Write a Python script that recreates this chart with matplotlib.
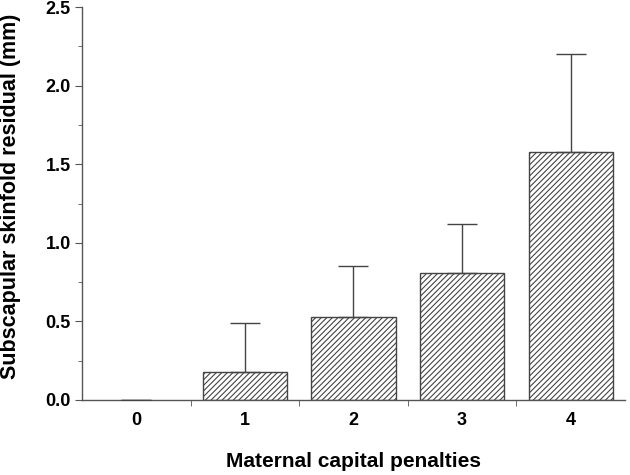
import matplotlib
matplotlib.use("Agg")
import matplotlib.pyplot as plt
from matplotlib.ticker import MultipleLocator, FixedLocator

categories = ["0", "1", "2", "3", "4"]
means = [0.0, 0.18, 0.53, 0.81, 1.58]
upper_err = [0.0, 0.31, 0.32, 0.31, 0.62]

plt.rcParams['font.family'] = ['Liberation Sans', 'DejaVu Sans']
plt.rcParams['hatch.color'] = '#555555'
plt.rcParams['hatch.linewidth'] = 0.8

fig = plt.figure(figsize=(6.3, 4.75), dpi=100)
ax = fig.add_axes([0.130, 0.158, 0.862, 0.827])

x = list(range(len(categories)))
bars = ax.bar(x, means, width=0.775, color='white', edgecolor='#444444', linewidth=1.0,
              hatch='//////', zorder=2)
for b, m in zip(bars, means):
    if m == 0:
        b.set_linewidth(0)
ax.errorbar(x, means, yerr=[[0]*len(x), upper_err], fmt='none', ecolor='#444444',
            elinewidth=1.0, capsize=10.5, capthick=1.0, zorder=3)

ax.set_xlim(-0.5, 4.5)
ax.set_ylim(0, 2.5)
ax.set_xticks(x)
ax.set_xticklabels(categories, fontsize=13, fontweight='bold')
ax.xaxis.set_minor_locator(FixedLocator([0.5, 1.5, 2.5, 3.5]))
ax.tick_params(axis='x', which='major', length=0, pad=9)
ax.tick_params(axis='x', which='minor', length=4, color='#555555', direction='out')
ax.yaxis.set_major_locator(MultipleLocator(0.5))
ax.yaxis.set_minor_locator(MultipleLocator(0.25))
ax.set_yticklabels([f"{v:.1f}" for v in ax.get_yticks()], fontsize=13, fontweight='bold')
ax.tick_params(axis='y', which='major', length=5, color='#555555', pad=3)
ax.tick_params(axis='y', which='minor', length=3, color='#555555')

for s in ['top', 'right']:
    ax.spines[s].set_visible(False)
for s in ['left', 'bottom']:
    ax.spines[s].set_color('#555555')
    ax.spines[s].set_linewidth(1.0)

ax.set_xlabel("Maternal capital penalties", fontsize=15, fontweight='bold', labelpad=16)
ax.set_ylabel("Subscapular skinfold residual (mm)", fontsize=15.5, fontweight='bold')
ax.yaxis.set_label_coords(-0.112, 0.518)

fig.savefig("out.png", dpi=100)
